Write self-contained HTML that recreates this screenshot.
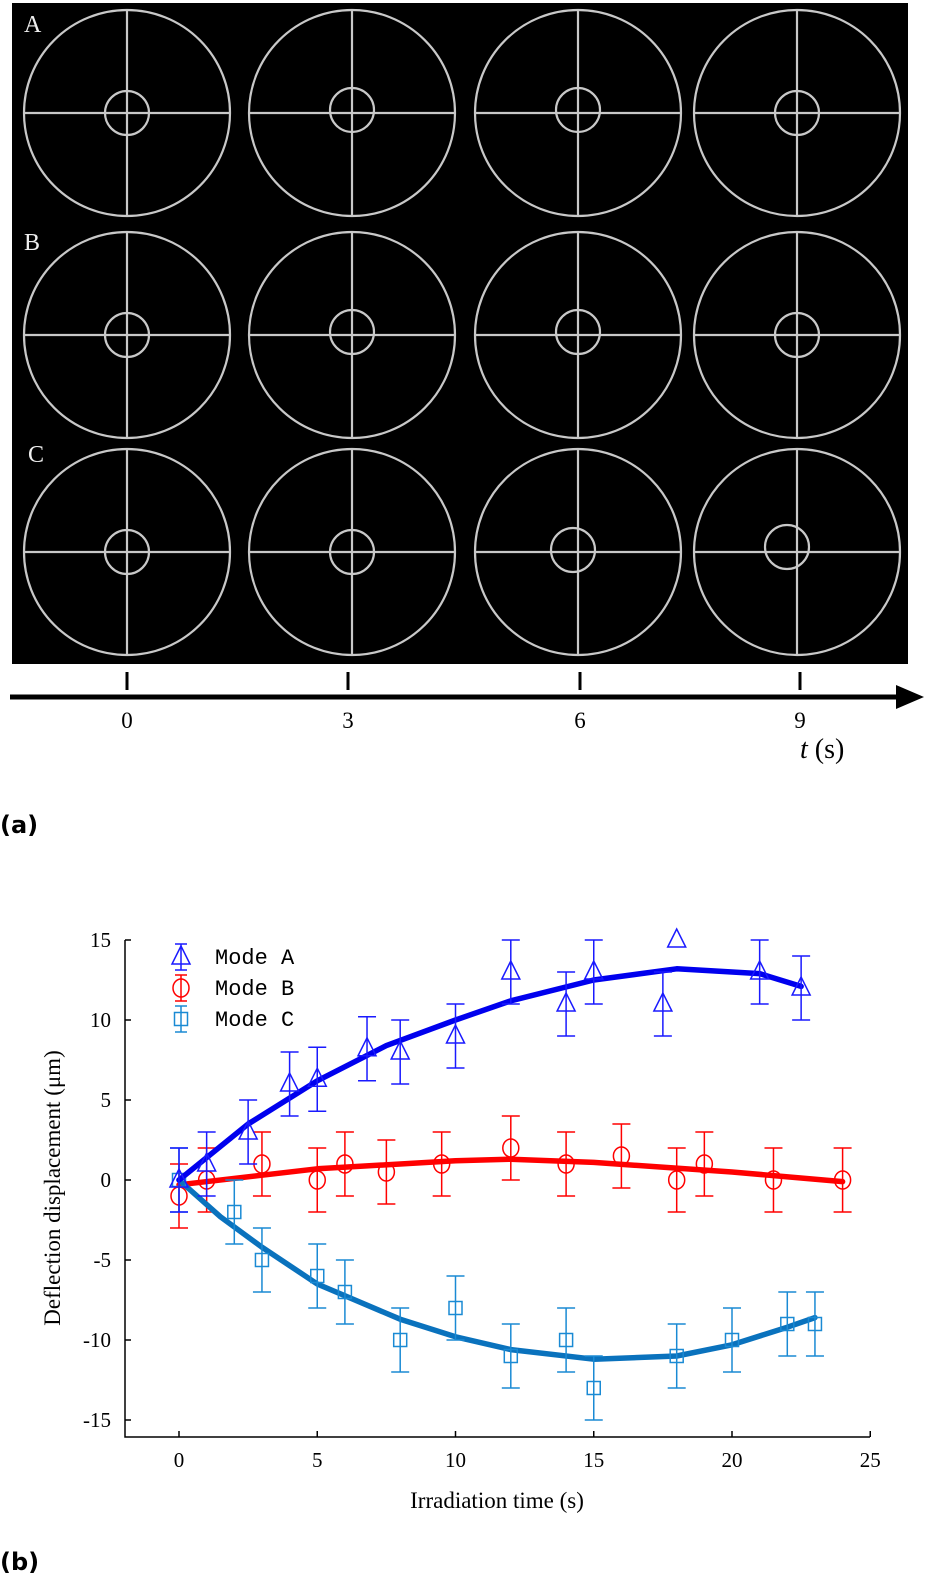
<!DOCTYPE html>
<html><head><meta charset="utf-8"><style>
html,body{margin:0;padding:0;background:#fff;width:935px;height:1585px;overflow:hidden}
svg{display:block}
</style></head><body>
<svg width="935" height="1585" viewBox="0 0 935 1585" xmlns="http://www.w3.org/2000/svg">
<g id="panelA">
<rect x="12" y="3" width="896" height="661" fill="#000"/>
<g id="rings" stroke="#c8c8c8" stroke-width="2.2" fill="none"></g>
<text x="24" y="32" fill="#eee" font-family="Liberation Serif, serif" font-size="24">A</text>
<text x="24" y="250" fill="#eee" font-family="Liberation Serif, serif" font-size="24">B</text>
<text x="28" y="462" fill="#eee" font-family="Liberation Serif, serif" font-size="24">C</text>
<line x1="10" y1="697" x2="900" y2="697" stroke="#000" stroke-width="5"/>
<polygon points="896,685 924,697 896,709" fill="#000"/>
<g id="tticks" font-family="Liberation Serif, serif" font-size="23" text-anchor="middle"></g>
<text x="800" y="758" font-family="Liberation Serif, serif" font-size="28"><tspan font-style="italic">t</tspan> (s)</text>
<text x="0" y="833" font-family="DejaVu Sans, sans-serif" font-weight="bold" font-size="24">(a)</text>
</g>
<g id="chart"></g>
<text x="0" y="1570" font-family="DejaVu Sans, sans-serif" font-weight="bold" font-size="24">(b)</text>
</svg>
<script>
const NS="http://www.w3.org/2000/svg";
function mk(tag,attrs,parent){const e=document.createElementNS(NS,tag);for(const k in attrs)e.setAttribute(k,attrs[k]);parent.appendChild(e);return e;}
const ringCols=[127,352,578,797];
const ringRows=[113,335,552];
const innerOffsets=[[0,0],[0,-3],[0,-3],[0,0],[0,0],[0,-3],[0,-3],[0,0],[0,0],[0,0],[-5,-2],[-10,-5]];
const rings=document.getElementById('rings');
ringRows.forEach((cy,r)=>ringCols.forEach((cx,c)=>{
  const g=mk('g',{},rings);
  
  
  mk('circle',{cx:cx,cy:cy,r:103},g);
  mk('line',{x1:cx-103,y1:cy,x2:cx+103,y2:cy},g);
  mk('line',{x1:cx,y1:cy-103,x2:cx,y2:cy+103},g);
  const o=innerOffsets[r*4+c];
  mk('circle',{cx:cx+o[0],cy:cy+o[1],r:22},g);
}));
const tLabels=['0','3','6','9'];
const tt=document.getElementById('tticks');
tLabels.forEach((l,i)=>{
  const x=[127,348,580,800][i];
  const ln=mk('line',{x1:x,y1:672,x2:x,y2:690,stroke:'#000','stroke-width':3},tt);
  
  
  const t=mk('text',{x:x,y:728},tt);t.textContent=l;
  
  
});

const xTicks=[0,5,10,15,20,25];
const yTicks=[15,10,5,0,-5,-10,-15];
const aX=[0,1,2.5,4,5,6.8,8,10,12,14,15,17.5,18,21,22.5];
const aY=[0,1,3,6,6.3,8.2,8,9,13,11,13,11,15,13,12];
const aErr=[2,2,2,2,2,2,2,2,2,2,2,2,0,2,2];
const aFitX=[0,2.5,5,7.5,10,12,15,18,20,21,22.5];
const aFitY=[0,3.5,6.2,8.4,10,11.2,12.5,13.2,13,12.9,12.1];
const bX=[0,1,3,5,6,7.5,9.5,12,14,16,18,19,21.5,24];
const bY=[-1,0,1,0,1,0.5,1,2,1,1.5,0,1,0,0];
const bErr=[2,2,2,2,2,2,2,2,2,2,2,2,2,2];
const bFitX=[0,5,10,12,15,20,24];
const bFitY=[-0.3,0.7,1.2,1.3,1.1,0.5,-0.1];
const cX=[0,2,3,5,6,8,10,12,14,15,18,20,22,23];
const cY=[0,-2,-5,-6,-7,-10,-8,-11,-10,-13,-11,-10,-9,-9];
const cErr=[2,2,2,2,2,2,2,2,2,2,2,2,2,2];
const cFitX=[0,1.5,3,5,8,10,12,15,18,20,22,23];
const cFitY=[0,-2.3,-4.2,-6.5,-8.7,-9.8,-10.6,-11.2,-11,-10.3,-9.2,-8.6];

const xs=v=>179+v*27.65;
const ys=v=>1180-v*16;
const ch=document.getElementById('chart');
const axes=mk('path',{d:'M125,940 V1437 H870',fill:'none',stroke:'#000','stroke-width':1.5},ch);


xTicks.forEach(v=>{
  const l=mk('line',{x1:xs(v),y1:1437,x2:xs(v),y2:1431,stroke:'#000','stroke-width':1.5},ch);
  
  
  const t=mk('text',{x:xs(v),y:1467,'text-anchor':'middle','font-family':'Liberation Serif, serif','font-size':21},ch);
  t.textContent=v;
  
  
});
yTicks.forEach(v=>{
  const l=mk('line',{x1:125,y1:ys(v),x2:131,y2:ys(v),stroke:'#000','stroke-width':1.5},ch);
  
  
  const t=mk('text',{x:111,y:ys(v)+7,'text-anchor':'end','font-family':'Liberation Serif, serif','font-size':21},ch);
  t.textContent=v;
  
  
});
const xt=mk('text',{x:497,y:1508,'text-anchor':'middle','font-family':'Liberation Serif, serif','font-size':23},ch);
xt.textContent='Irradiation time (s)';


const yt=mk('text',{x:60,y:1188,'text-anchor':'middle','font-family':'Liberation Serif, serif','font-size':23,transform:'rotate(-90 60 1188)'},ch);
yt.textContent='Deflection displacement (μm)';



function marker(kind,x,y,col,g){
  if(kind==='tri') return mk('polygon',{points:`${x},${y-11} ${x-9},${y+7} ${x+9},${y+7}`,fill:'none',stroke:col,'stroke-width':1.5},g);
  if(kind==='circ') return mk('ellipse',{cx:x,cy:y,rx:8,ry:9,fill:'none',stroke:col,'stroke-width':1.5},g);
  return mk('rect',{x:x-6.5,y:y-6.5,width:13,height:13,fill:'none',stroke:col,'stroke-width':1.5},g);
}
function series(name,X,Y,E,FX,FY,col,fitCol,kind){
  const g=mk('g',{},ch);
  
  
  const pts=FX.map((v,i)=>`${xs(v)},${ys(FY[i])}`).join(' ');
  const fit=mk('polyline',{points:pts,fill:'none',stroke:fitCol,'stroke-width':5.5,'stroke-linejoin':'round','stroke-linecap':'round'},g);
  
  
  X.forEach((v,i)=>{
    const x=xs(v),y=ys(Y[i]);
    if(E[i]>0){
      const y1=ys(Y[i]+E[i]),y2=ys(Y[i]-E[i]);
      const eb=mk('path',{d:`M${x},${y1}V${y2}M${x-9},${y1}H${x+9}M${x-9},${y2}H${x+9}`,stroke:col,'stroke-width':1.5,fill:'none'},g);
      
      
    }
    const m=marker(kind,x,y,col,g);
    
    
  });
}
series('mode-b',bX,bY,bErr,bFitX,bFitY,'#f00','#f00','circ');
series('mode-c',cX,cY,cErr,cFitX,cFitY,'#1a8ad4','#0a72bd','sq');
series('mode-a',aX,aY,aErr,aFitX,aFitY,'#1a1aff','#0000ee','tri');

const legNames=['Mode A','Mode B','Mode C'];
const legCols=['#1a1aff','#f00','#1a8ad4'];
const legKinds=['tri','circ','sq'];
legNames.forEach((n,i)=>{
  const g=mk('g',{},ch);
  
  
  const y=957+i*31;
  mk('path',{d:`M181,${y-13}V${y+13}M175,${y-13}H187M175,${y+13}H187`,stroke:legCols[i],'stroke-width':1.5,fill:'none'},g);
  marker(legKinds[i],181,y,legCols[i],g);
  const t=mk('text',{x:215,y:y+7,'font-family':'Liberation Mono, monospace','font-size':22},g);
  t.textContent=n;
});
</script>
</body></html>
